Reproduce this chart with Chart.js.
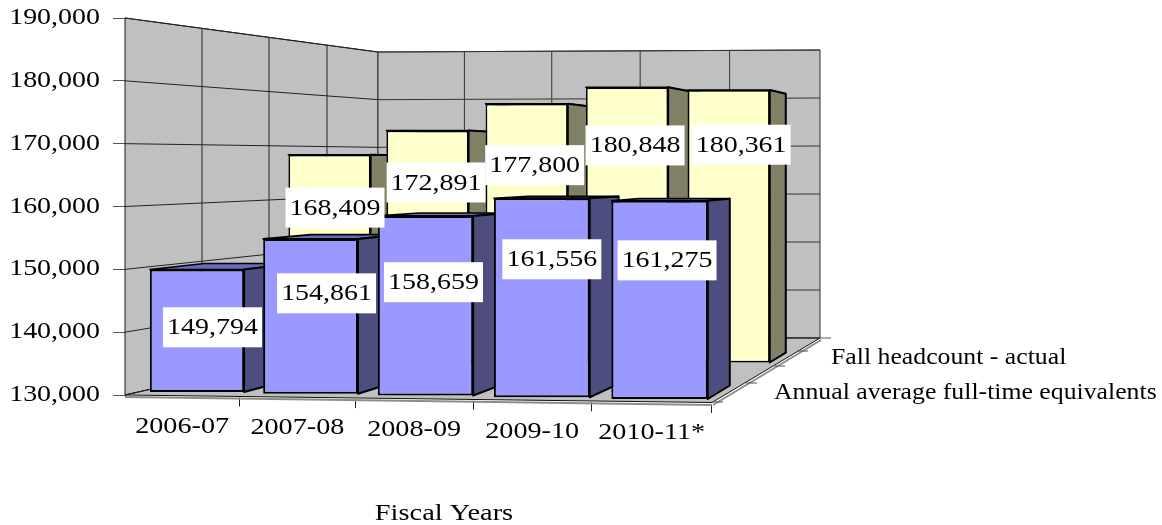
<!DOCTYPE html>
<html>
<head>
<meta charset="utf-8">
<style>html,body{margin:0;padding:0;background:#fff}#wrap{width:1162px;height:525px}</style>
<script src="https://cdn.jsdelivr.net/npm/chart.js@4"></script>
</head>
<body>
<div id="wrap"><canvas id="c" width="1162" height="525"></canvas></div>
<script>
// ---- data ----
const categories = ['2006-07', '2007-08', '2008-09', '2009-10', '2010-11*'];
const annualFTE = [149794, 154861, 158659, 161556, 161275];
const fallHeadcount = [168409, 172891, 177800, 180848, 180361];
const seriesNames = ['Annual average full-time equivalents', 'Fall headcount - actual'];
const axisTitle = 'Fiscal Years';
const valueMin = 130000, valueMax = 190000, valueStep = 10000;

// ---- styling and scene geometry (the 3-D look) ----
const FONT_SIZE = 23;
const FONT = FONT_SIZE + 'px "Liberation Serif"';
const TICK_SX = 1.215, CAT_SX = 1.225, LABEL_SX = 1.215, SERIES_SX = 1.12, TITLE_SX = 1.235;
const VP = {x: 1090, y: 165};
const wall = {x0: 125, y0t: 18, y0b: 395, x1: 378, y1t: 52, y1b: 338, x2: 820, y2t: 50, y2b: 338};
const floorFront = {x: 712, y: 402.5};
const sideWallXs = [202, 269, 327];
const depthTicks = [[712, 402], [746, 383], [774, 366], [797, 351], [820, 338]];
const CAT_SLOPE = 0.0136;

const planes = [
  {a: .985, b: 17.6, k: .0149, c: 389.3, sy: 1, persp: .00005, t: .0577,
   face: '#9999FF', side: '#4D4D80', top: '#6A6ABF',
   nudges: [[15.5, -3.5], [16, -23], [8, -23.5], [10, -38.5], [7.5, -39.5]]},
  {a: .85, b: 174.7, k: 0, c: 362.5, sy: .8626, persp: 0, t: .05,
   face: '#FFFFCC', side: '#808066', top: '#BFBF99',
   nudges: [[5.5, -51], [8.5, -64], [8, -68], [8, -79.5], [12.5, -81.5]]}
];

// ---- axes whose labels are stretched like the original picture ----
class SlopedCategory extends Chart.CategoryScale {
  static id = 'slopedCategory';
  static defaults = Chart.CategoryScale.defaults;
  getPixelForDecimal(d) { return super.getPixelForDecimal(d - .03 * d * (1 - d)); }
  _computeGridLineItems(area) {
    const items = super._computeGridLineItems(area);
    items.forEach(it => {
      const dy = CAT_SLOPE * (it.tx1 - this.left) + 1;
      it.ty1 += dy; it.ty2 += dy;
    });
    return items;
  }
  _computeLabelItems(area) {
    const items = super._computeLabelItems(area);
    items.forEach(it => {
      const tr = it.options.translation;
      const x = tr[0];
      it.options.translation = [x / CAT_SX, tr[1] + CAT_SLOPE * (x - 182) * 1.0];
    });
    return items;
  }
  drawLabels(area) {
    const ctx = this.ctx; ctx.save(); ctx.scale(CAT_SX, 1);
    super.drawLabels(area); ctx.restore();
  }
  drawTitle() {
    const ctx = this.ctx; ctx.save();
    ctx.font = FONT; ctx.fillStyle = '#000'; ctx.textAlign = 'center'; ctx.textBaseline = 'middle';
    ctx.translate(444, 514); ctx.scale(TITLE_SX, 1);
    ctx.fillText(this.options.title.text, 0, 0);
    ctx.restore();
  }
}
class StretchedLinear extends Chart.LinearScale {
  static id = 'stretchedLinear';
  static defaults = Chart.LinearScale.defaults;
  _computeLabelItems(area) {
    const items = super._computeLabelItems(area);
    items.forEach(it => {
      const tr = it.options.translation;
      it.options.translation = [(tr[0] - 12) / TICK_SX, tr[1]];
    });
    return items;
  }
  drawLabels(area) {
    const ctx = this.ctx; ctx.save(); ctx.scale(TICK_SX, 1);
    super.drawLabels(area); ctx.restore();
  }
}
Chart.register(SlopedCategory, StretchedLinear);

// ---- projection helpers ----
function barMatrix(el, pl) {
  const d = 1 + (pl.a * el.x + pl.b - 426) * pl.persp;
  const cx = pl.a * el.x + pl.b, yb = pl.k * el.x + pl.c;
  return {
    sx: pl.a * d, sy: pl.sy * d, ex: cx - pl.a * d * el.x, ey: yb - pl.sy * d * el.base
  };
}
function poly(ctx, pts, fill, stroke, lw) {
  ctx.beginPath();
  pts.forEach((p, i) => i ? ctx.lineTo(p[0], p[1]) : ctx.moveTo(p[0], p[1]));
  ctx.closePath();
  if (fill) { ctx.fillStyle = fill; ctx.fill(); }
  if (stroke) { ctx.strokeStyle = stroke; ctx.lineWidth = lw; ctx.lineJoin = 'round'; ctx.stroke(); }
}
function seg(ctx, x1, y1, x2, y2, color, lw) {
  ctx.beginPath(); ctx.moveTo(x1, y1); ctx.lineTo(x2, y2);
  ctx.strokeStyle = color; ctx.lineWidth = lw; ctx.stroke();
}

const scene = {
  id: 'scene',
  beforeDatasetsDraw(chart) {
    const ctx = chart.ctx, w = wall, ys = chart.scales.y, xs = chart.scales.x;
    ctx.save();
    // left wall, back wall, floor
    poly(ctx, [[w.x0, w.y0t], [w.x1, w.y1t], [w.x1, w.y1b], [w.x0, w.y0b]], '#C0C0C0', '#1a1a1a', 1);
    poly(ctx, [[w.x1, w.y1t], [w.x2, w.y2t], [w.x2, w.y2b], [w.x1, w.y1b]], '#C0C0C0', '#333', 1);
    seg(ctx, w.x0, w.y0b + 2, floorFront.x, floorFront.y + 2.5, '#8c8c8c', 2);
    seg(ctx, floorFront.x + 1, floorFront.y + 2.5, w.x2 + 1, w.y2b + 2, '#8c8c8c', 2);
    poly(ctx, [[w.x0, w.y0b], [w.x1, w.y1b], [w.x2, w.y2b], [floorFront.x, floorFront.y]], '#C0C0C0', '#111', 1);
    // value gridlines follow the y scale ticks
    const range = valueMax - valueMin;
    ys.ticks.forEach(t => {
      const f = (valueMax - t.value) / range;
      const y0 = ys.getPixelForValue(t.value);
      const y1 = w.y1t + (w.y1b - w.y1t) * f, y2 = w.y2t + (w.y2b - w.y2t) * f;
      seg(ctx, w.x0, y0, w.x1, y1, '#222', 1);
      seg(ctx, w.x1, y1, w.x2, y2, '#333', 1);
    });
    // depth lines on the side wall
    sideWallXs.forEach(x => {
      const f = (x - w.x0) / (w.x1 - w.x0);
      seg(ctx, x, w.y0t + (w.y1t - w.y0t) * f, x, w.y0b + (w.y1b - w.y0b) * f, '#222', 1);
    });
    // category lines on back wall + floor
    const n = categories.length, k = (w.x2 - w.x1) / (xs.right - xs.left);
    for (let i = 1; i < n; i++) {
      const gx = (xs.getPixelForValue(i - 1) + xs.getPixelForValue(i)) / 2;
      const x = w.x1 + (gx - xs.left) * k;
      const fy = (x - w.x1) / (w.x2 - w.x1);
      seg(ctx, x, w.y1t + (w.y2t - w.y1t) * fy, x, w.y1b, '#333', 1);
    }
    // depth axis ticks
    depthTicks.forEach(p => seg(ctx, p[0], p[1], p[0] + 11, p[1], '#555', 1));
    ctx.restore();
  },
  beforeDatasetDraw(chart, args) {
    const ctx = chart.ctx, meta = args.meta, pl = planes[args.index];
    meta.data.forEach(el => {
      const m = barMatrix(el, pl), hw = el.width / 2;
      const L = m.sx * (el.x - hw) + m.ex, R = m.sx * (el.x + hw) + m.ex;
      const T = m.sy * el.y + m.ey, B = m.sy * el.base + m.ey;
      const back = (x, y) => [x + (VP.x - x) * pl.t, y + (VP.y - y) * pl.t];
      ctx.save();
      poly(ctx, [[L, T], back(L, T), back(R, T), [R, T]], pl.top, '#000', 1.6);
      poly(ctx, [[R, T], back(R, T), back(R, B), [R, B]], pl.side, '#000', 2);
      ctx.restore();
      ctx.save();
      ctx.transform(m.sx, 0, 0, m.sy, m.ex, m.ey);
      el.draw(ctx);
      ctx.restore();
    });
    return false;
  },
  afterDatasetsDraw(chart) {
    const ctx = chart.ctx;
    ctx.save();
    ctx.font = FONT; ctx.textBaseline = 'middle'; ctx.textAlign = 'center';
    // value labels on white plates, read from the bar elements
    [1, 0].forEach(ds => {
      const pl = planes[ds], meta = chart.getDatasetMeta(ds);
      meta.data.forEach((el, i) => {
        const m = barMatrix(el, pl);
        const cx = m.sx * el.x + m.ex + pl.nudges[i][0];
        const cy = (m.sy * el.y + m.sy * el.base) / 2 + m.ey + pl.nudges[i][1];
        ctx.fillStyle = '#fff';
        ctx.fillRect(cx - 49.5, cy - 20, 99, 40);
        ctx.fillStyle = '#000';
        ctx.save(); ctx.translate(cx, cy + 1); ctx.scale(LABEL_SX, 1);
        ctx.fillText(chart.data.datasets[ds].data[i].toLocaleString('en-US'), 0, 0);
        ctx.restore();
      });
    });
    // series names along the depth axis
    ctx.textAlign = 'left';
    [[1, 831, 358], [0, 774, 393]].forEach(([ds, x, y]) => {
      ctx.save(); ctx.translate(x, y); ctx.scale(SERIES_SX, 1);
      ctx.fillText(chart.data.datasets[ds].label, 0, 0);
      ctx.restore();
    });
    ctx.restore();
  }
};

new Chart(document.getElementById('c'), {
  type: 'bar',
  data: {
    labels: categories,
    datasets: [
      {label: seriesNames[0], data: annualFTE, backgroundColor: planes[0].face, base: valueMin},
      {label: seriesNames[1], data: fallHeadcount, backgroundColor: planes[1].face, base: valueMin}
    ]
  },
  options: {
    responsive: false, animation: false,
    layout: {padding: {top: 18, right: 450, left: 0, bottom: 0}},
    elements: {bar: {borderColor: '#000', borderWidth: 2, borderSkipped: false}},
    datasets: {bar: {grouped: false, categoryPercentage: .839, barPercentage: 1}},
    plugins: {legend: {display: false}, title: {display: false}, tooltip: {enabled: false}},
    scales: {
      x: {
        type: 'slopedCategory', offset: true,
        afterFit: s => { s.height = 130; },
        border: {display: false},
        grid: {offset: true, drawOnChartArea: false, drawTicks: true, tickLength: 9, color: '#222', tickColor: '#222'},
        ticks: {font: {family: 'Liberation Serif', size: FONT_SIZE}, color: '#000', padding: 9, maxRotation: 0, autoSkip: false},
        title: {display: true, text: axisTitle}
      },
      y: {
        type: 'stretchedLinear', min: valueMin, max: valueMax,
        afterFit: s => { s.width = 125; },
        border: {display: false},
        grid: {drawOnChartArea: false, tickLength: 12, color: '#555', tickColor: '#555'},
        ticks: {stepSize: valueStep, font: {family: 'Liberation Serif', size: FONT_SIZE}, color: '#000', padding: 1,
                callback: v => v.toLocaleString('en-US')}
      }
    }
  },
  plugins: [scene]
});
</script>
</body>
</html>
